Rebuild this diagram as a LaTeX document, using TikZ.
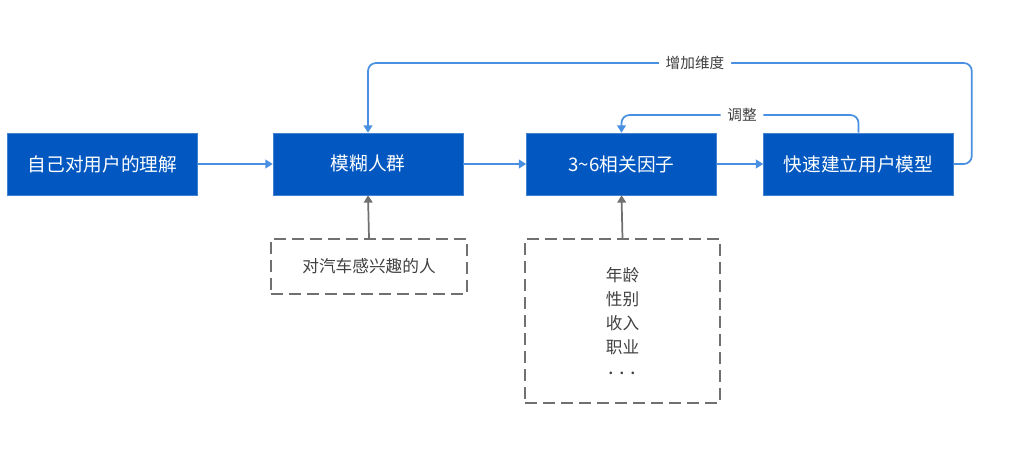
\documentclass[tikz,border=0pt]{standalone}
\usepackage{fontspec}
\setmainfont{Noto Sans CJK SC}
\usepackage{tikz}
\usetikzlibrary{arrows.meta,positioning}
\definecolor{boxblue}{HTML}{0258C0}
\definecolor{linkblue}{HTML}{4A90E2}
\definecolor{dashgray}{HTML}{707070}

\begin{document}
\begin{tikzpicture}[
    x=0.75pt, y=-0.75pt,
    stage/.style={draw=boxblue!75!white, fill=boxblue, text=white, font=\fontsize{14}{16}\selectfont, minimum width=142.5pt, minimum height=46.5pt, inner sep=0pt},
    hint/.style={draw=dashgray, dash pattern=on 9pt off 4.5pt, line width=1.2pt, align=center, text=black!75, font=\fontsize{12.5}{18}\selectfont, inner sep=0pt},
    arrow/.style={-{Triangle[width=6.5pt,length=5.5pt]}, linkblue, line width=1.3pt, rounded corners=6pt},
    feed/.style={-{Triangle[width=6.5pt,length=5.5pt]}, dashgray, line width=1.3pt},
    tag/.style={fill=white, text=black!75, font=\fontsize{11}{13}\selectfont, inner sep=5pt}
]
\useasboundingbox (0,0) rectangle (1026,452);

% main chain
\node[stage] (insight) at (102.5,164) {自己对用户的理解};
\node[stage] (fuzzy) at (368,164) {模糊人群};
\node[stage] (factors) at (621.5,164) {3\textasciitilde6相关因子};
\node[stage] (model) at (858.5,164) {快速建立用户模型};

\draw[arrow] (insight) -- (fuzzy);
\draw[arrow] (fuzzy) -- (factors);
\draw[arrow] (factors) -- (model);

% feedback loops
\draw[arrow] (model.east) -- ++(18,0) |- (695,63) node[tag] {增加维度} -| (fuzzy.north);
\draw[arrow] (model.north) |- (742,115) node[tag] {调整} -| (factors.north);

% inputs from below
\node[hint, minimum width=147pt, minimum height=41.25pt] (car) at (369,266.5) {对汽车感兴趣的人};
\node[hint, minimum width=146.25pt, minimum height=123pt] (traits) at (622.5,321) {年龄\\性别\\收入\\职业\\[-2pt]{\fontsize{15}{18}\selectfont .\hspace{4pt}.\hspace{4pt}.}};

\draw[feed] (car.north) -- (fuzzy.south);
\draw[feed] (traits.north) -- (factors.south);

\end{tikzpicture}
\end{document}
